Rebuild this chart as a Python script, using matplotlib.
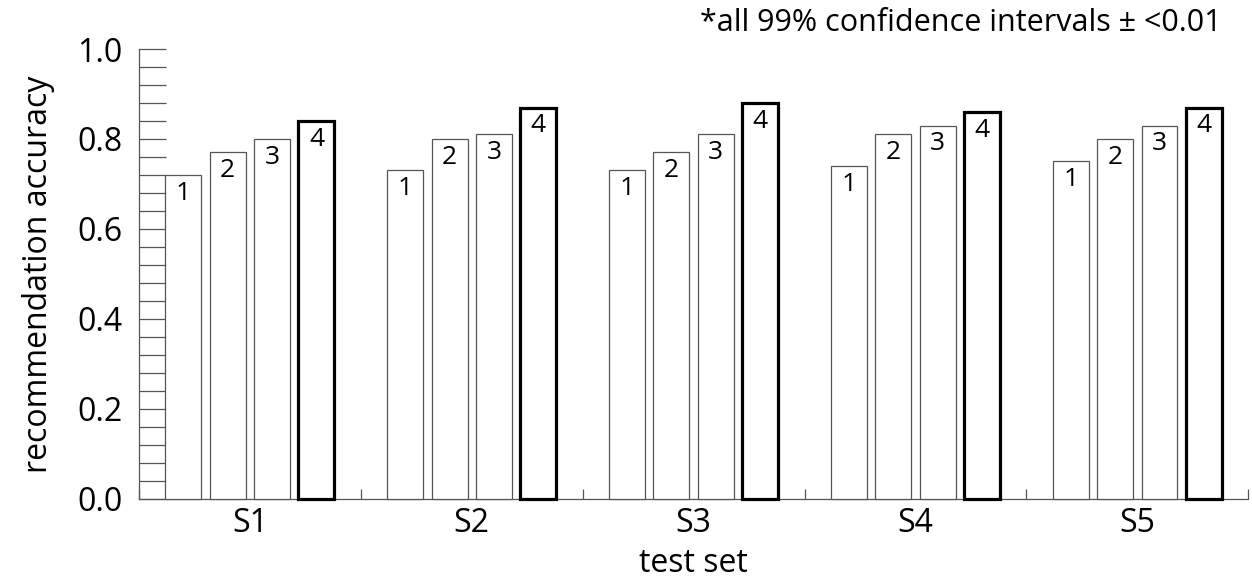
import matplotlib
matplotlib.use('Agg')
import matplotlib.pyplot as plt
import numpy as np

# Accuracy for each test set, one list per method
test_sets = ['S1', 'S2', 'S3', 'S4', 'S5']
method_1 = [0.72, 0.73, 0.73, 0.74, 0.75]
method_2 = [0.77, 0.80, 0.77, 0.81, 0.80]
method_3 = [0.80, 0.81, 0.81, 0.83, 0.83]
method_4 = [0.84, 0.87, 0.88, 0.86, 0.87]
method_names = ['1', '2', '3', '4']

plt.rcParams['font.family'] = ['Open Sans', 'DejaVu Sans']

GREY = '#555555'

fig = plt.figure(figsize=(12.52, 5.84), dpi=100)
ax = fig.add_axes([0.111, 0.146, 0.886, 0.770])

x = np.arange(len(test_sets))
offsets = [-0.3, -0.1, 0.1, 0.3]
width = 0.162

series = [method_1, method_2, method_3, method_4]
for k, valeurs in enumerate(series):
    last = (k == len(series) - 1)
    bars = ax.bar(x + offsets[k], valeurs, width,
                  facecolor='white',
                  edgecolor='black' if last else GREY,
                  linewidth=2.3 if last else 0.9,
                  clip_on=False, zorder=3)
    for b, v in zip(bars, valeurs):
        ax.annotate(method_names[k], (b.get_x() + b.get_width() / 2, v),
                    xytext=(0, -4), textcoords='offset points',
                    ha='center', va='top', fontsize=19, zorder=4)

# Axes
ax.set_xlim(-0.5, len(test_sets) - 0.5)
ax.set_ylim(0, 1.0)

ax.spines['top'].set_visible(False)
ax.spines['right'].set_visible(False)
for s in ('left', 'bottom'):
    ax.spines[s].set_color(GREY)
    ax.spines[s].set_linewidth(0.9)

ax.set_yticks(np.arange(0, 1.01, 0.2))
ax.set_yticklabels(['%.1f' % v for v in np.arange(0, 1.01, 0.2)])
ax.set_yticks(np.arange(0, 1.001, 0.04), minor=True)
ax.tick_params(axis='y', which='both', direction='in', length=19.5,
               width=0.9, color=GREY, labelsize=23, pad=12)

ax.set_xticks(x)
ax.set_xticklabels(test_sets)
ax.set_xticks(np.arange(-0.5, len(test_sets)), minor=True)
ax.tick_params(axis='x', which='major', length=0, labelsize=23, pad=6)
ax.tick_params(axis='x', which='minor', direction='in', length=7.5,
               width=0.9, color=GREY)

ax.set_xlabel('test set', fontsize=23, labelpad=5)
ax.set_ylabel('recommendation accuracy', fontsize=23, labelpad=16)

fig.text(0.976, 0.961, '*all 99% confidence intervals \u00b1 <0.01',
         ha='right', va='center', fontsize=22)

fig.savefig('out.png', dpi=100)
